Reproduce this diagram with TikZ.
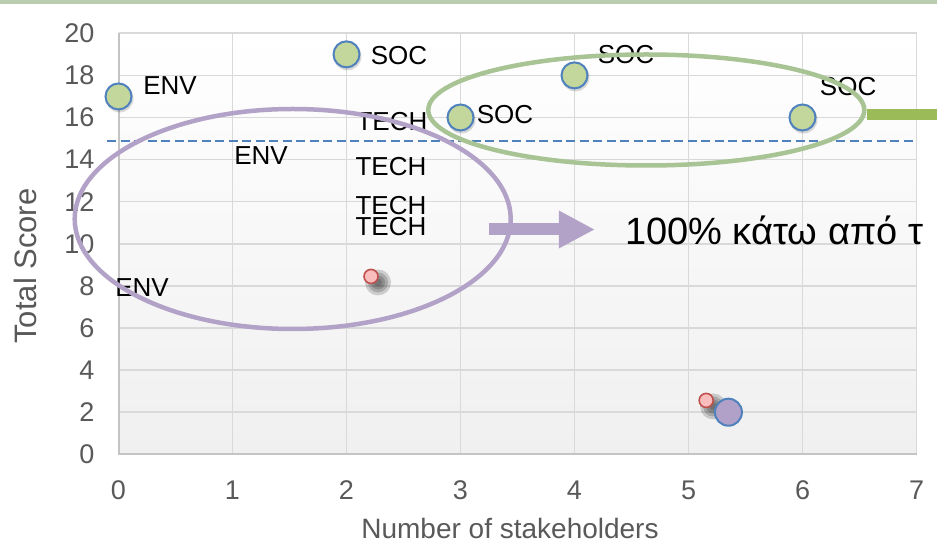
\documentclass[tikz,border=0pt]{standalone}
\usepackage{fontspec}
\setmainfont{Liberation Sans}
\usetikzlibrary{arrows.meta,calc,positioning,shapes.geometric}
\definecolor{dotblue}{HTML}{4F81BD}
\definecolor{dotgreen}{HTML}{C3D69B}
\definecolor{dotlilac}{HTML}{B1A0C7}
\definecolor{dotpink}{HTML}{F9BDBD}
\definecolor{dotred}{HTML}{C0504D}
\definecolor{ringlilac}{HTML}{B3A2C7}
\definecolor{ringgreen}{HTML}{A9C494}
\definecolor{barolive}{HTML}{9BBB59}
\definecolor{topsage}{HTML}{BBCDB0}
\definecolor{gridgray}{HTML}{D9D9D9}
\definecolor{axisgray}{HTML}{C4C4C4}
\definecolor{ticktext}{HTML}{595959}

\begin{document}
\begin{tikzpicture}[x=1pt,y=1pt,>=Latex,
    lbl/.style={font=\fontsize{26}{28}\selectfont,inner sep=0pt},
    tick/.style={font=\fontsize{27}{29}\selectfont,text=ticktext,inner sep=0pt},
    greendot/.style={circle,fill=dotgreen,draw=dotblue,line width=2pt,minimum size=26pt,inner sep=0pt},
    reddot/.style={circle,fill=dotpink,draw=dotred,line width=1.6pt,minimum size=14pt,inner sep=0pt},
    ring/.style={ellipse,draw,line width=4.5pt,inner sep=0pt}]
  \useasboundingbox (0,0) rectangle (937,543);
  \fill[topsage] (0,539) rectangle (937,543);

  \begin{scope}[shift={(118.5,88.7)},x=114pt,y=21.05pt]
    \shade[top color=white,bottom color=black!6] (0,0) rectangle (7,20);
    \foreach \i in {1,...,7}
      \draw[gridgray,line width=1.6pt] (\i,0) -- (\i,20);
    \foreach \j in {2,4,...,20}
      \draw[gridgray,line width=1.6pt] (0,\j) -- (7,\j);
    \draw[axisgray,line width=2pt] (0,20) -- (0,0) -- (7,0);
    \foreach \i in {0,...,7}
      \node[tick,yshift=-36pt] (xt\i) at (\i,0) {\i};
    \foreach \j in {0,2,...,20}
      \node[tick,anchor=east,xshift=-24pt] (yt\j) at (0,\j) {\j};

    \draw[dotblue,line width=1.8pt,dash pattern=on 9pt off 4.5pt] (-0.1,14.88) -- (7,14.88);

    \foreach \x/\y/\t/\n in {0.452/17.5/ENV/e1,1.25/14.17/ENV/e2,0.206/7.9/ENV/e3,
        2.461/18.93/SOC/s1,3.39/16.16/SOC/s2,4.452/18.97/SOC/s3,6.40/17.45/SOC/s4,
        2.399/15.79/TECH/t1,2.39/13.65/TECH/t2,2.39/11.84/TECH/t3,2.39/10.84/TECH/t4}
      \node[lbl] (lbl\n) at (\x,\y) {\t};

    \foreach \x/\y/\n in {0/17/a,2/19/b,3/16/c,4/18/d,6/16/e}{
      \fill[black,opacity=.15] ([shift={(1pt,-2pt)}]\x,\y) circle (14pt);
      \node[greendot] (dot\n) at (\x,\y) {};
    }
    \foreach \x/\y/\n in {2.215/8.45/a,5.155/2.56/b}{
      \foreach \r in {13,10,7,4}
        \fill[black,opacity=.17] ([shift={(7pt,-6pt)}]\x,\y) circle (\r pt);
      \node[reddot] (red\n) at (\x,\y) {};
    }
    \node[circle,fill=dotlilac,draw=dotblue,line width=2pt,minimum size=27pt,inner sep=0pt] (dotf) at (5.35,2) {};
  \end{scope}

  \node[font=\fontsize{28}{30}\selectfont,text=ticktext,inner sep=0pt] (xtitle) at (510,15) {Number of stakeholders};
  \node[font=\fontsize{31}{33}\selectfont,text=ticktext,inner sep=0pt,rotate=90] (ytitle) at (25,277) {Total Score};

  \node[ring,draw=ringlilac,minimum width=436pt,minimum height=220pt] (envgroup) at (292.7,324) {};
  \node[ring,draw=ringgreen,minimum width=436pt,minimum height=111pt] (socgroup) at (646.3,433) {};
  \coordinate (barend) at (945,428);
  \draw[barolive,line width=11pt] (socgroup.east |- barend) -- (barend);

  \draw[ringlilac,line width=12pt,-{Triangle[length=36pt,width=35pt]}]
    ([shift={(-24pt,-10.5pt)}]envgroup.east) -- ++(106pt,0) coordinate (arrtip);
  \node[anchor=base west,inner sep=0pt,font=\fontsize{38}{40}\selectfont] (note) at (625,298) {100\% κάτω από τ};
\end{tikzpicture}
\end{document}
